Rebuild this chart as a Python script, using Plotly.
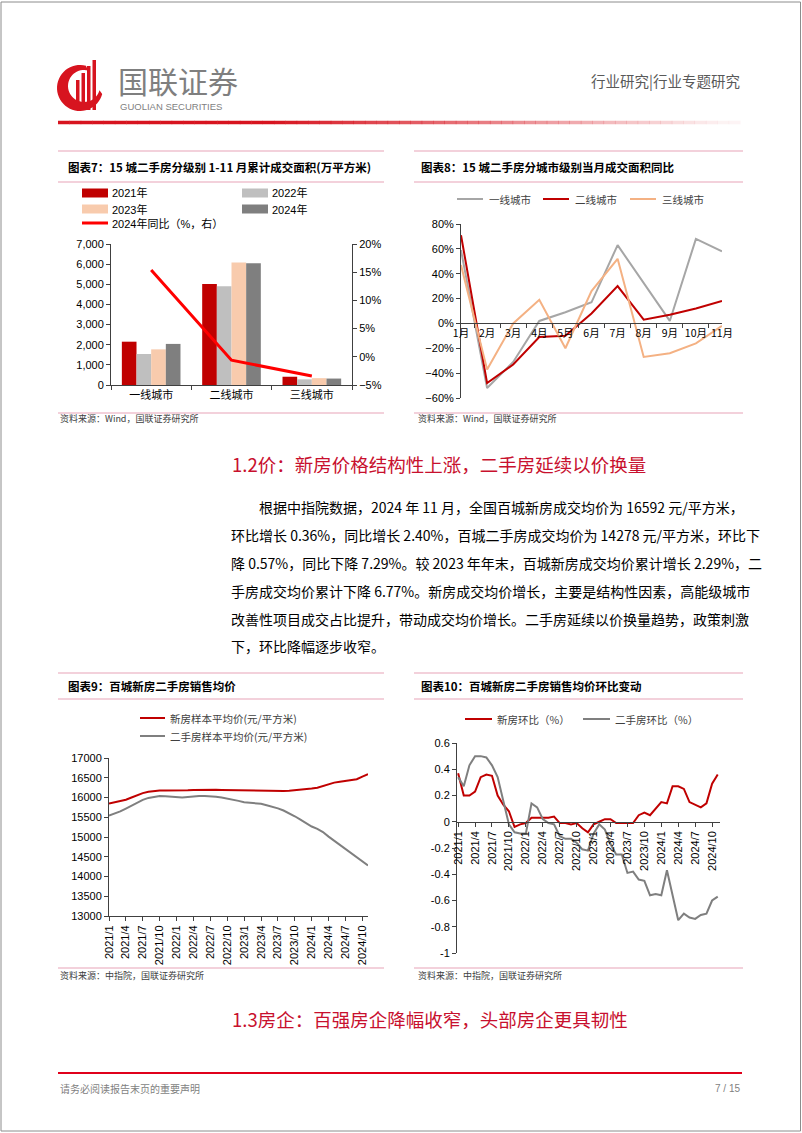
import math
import plotly.graph_objects as go

W, H = 802, 1133
def X(px): return px / W
def Y(py): return 1 - py / H

CN = "Noto Sans CJK SC"
LAT = "Liberation Sans, Noto Sans CJK SC"

# ---------------- data ----------------
# Chart 7
tiers = ["一线城市", "二线城市", "三线城市"]
area_2021 = [2150, 5020, 410]
area_2022 = [1540, 4900, 280]
area_2023 = [1770, 6080, 340]
area_2024 = [2040, 6050, 320]
yoy_2024 = [15.4, -0.6, -3.4]
bar_names = ["2021年", "2022年", "2023年", "2024年"]
line_name = "2024年同比（%，右）"

# Chart 8
months_cn = ["1月", "2月", "3月", "4月", "5月", "6月", "7月", "8月", "9月", "10月", "11月"]
tier1_yoy = [59, -52, -31, 2, 9, 17, 63, 32, 2, 68, 58]
tier2_yoy = [71, -48, -33, -11, -10, 8, 30, 3, 7, 12, 18]
tier3_yoy = [47, -37, 0, 19, -20, 26, 52, -27, -24, -16, -2]
tier_names = ["一线城市", "二线城市", "三线城市"]

# Chart 9 / 10 months
months = ([f"2021/{m}" for m in range(1, 13)] + [f"2022/{m}" for m in range(1, 13)]
          + [f"2023/{m}" for m in range(1, 13)] + [f"2024/{m}" for m in range(1, 12)])
tick_months = ["2021/1", "2021/4", "2021/7", "2021/10", "2022/1", "2022/4", "2022/7", "2022/10",
               "2023/1", "2023/4", "2023/7", "2023/10", "2024/1", "2024/4", "2024/7", "2024/10"]

new_price = [15850, 15880, 15910, 15945, 16000, 16060, 16110, 16145, 16165, 16180, 16178, 16175,
             16174, 16179, 16184, 16189, 16194, 16200, 16198, 16196, 16193, 16191, 16183, 16170,
             16167, 16167, 16170, 16173, 16171, 16169, 16167, 16165, 16173, 16184, 16192, 16200,
             16225, 16248, 16292, 16336, 16377, 16401, 16422, 16440, 16463, 16530, 16592]
used_price = [15540, 15585, 15650, 15720, 15798, 15875, 15940, 15990, 16020, 16035, 16030, 16020,
              16005, 16000, 16010, 16030, 16035, 16035, 16030, 16020, 16000, 15975, 15950, 15915,
              15880, 15870, 15860, 15840, 15805, 15770, 15725, 15670, 15605, 15525, 15440, 15350,
              15265, 15205, 15125, 15010, 14905, 14795, 14690, 14585, 14485, 14365, 14278]
price_names = ["新房样本平均价(元/平方米)", "二手房样本平均价(元/平方米)"]

new_mom = [0.37, 0.20, 0.20, 0.23, 0.34, 0.36, 0.35, 0.20, 0.13, 0.08, -0.04, -0.02,
           -0.01, 0.03, 0.03, 0.03, 0.03, 0.04, -0.01, -0.01, -0.02, -0.01, -0.05, -0.08,
           -0.02, 0.00, 0.02, 0.02, -0.01, -0.01, -0.01, -0.01, 0.05, 0.07, 0.05, 0.10,
           0.15, 0.14, 0.27, 0.27, 0.25, 0.15, 0.13, 0.11, 0.14, 0.29, 0.36]
used_mom = [0.34, 0.27, 0.43, 0.50, 0.50, 0.49, 0.43, 0.34, 0.16, -0.02, -0.08, -0.09,
            -0.09, 0.14, 0.11, 0.02, -0.01, -0.02, -0.11, -0.13, -0.13, -0.16, -0.21, -0.22,
            -0.09, -0.02, -0.06, -0.17, -0.25, -0.25, -0.39, -0.38, -0.44, -0.45, -0.56, -0.55,
            -0.56, -0.37, -0.56, -0.75, -0.70, -0.73, -0.74, -0.71, -0.70, -0.60, -0.57]
mom_names = ["新房环比（%）", "二手房环比（%）"]
mom_ticks = [0.6, 0.4, 0.2, 0, -0.2, -0.4, -0.6, -0.8, -1]
mom_ticktext = ["0.6", "0.4", "0.2", "0", "-0.2", "-0.4", "-0.6", "-0.8", "-1"]

# ---------------- styles ----------------
RED = "#C00000"
BRIGHT = "#FF0000"
LGRAY = "#BFBFBF"
PEACH = "#F8CBAD"
DGRAY = "#7F7F7F"
PINK = "#E7A3B8"
AX = "#404040"
HEAD = "#C8102E"

fig = go.Figure()
shapes, ann = [], []

def txt(x, y, s, size, color="#000000", xanchor="left", family=CN, yanchor="middle"):
    ann.append(dict(x=X(x), y=Y(y), xref="paper", yref="paper", text=s, showarrow=False,
                    xanchor=xanchor, yanchor=yanchor, font=dict(size=size, color=color, family=family)))

def hline(x0, x1, y, color, width=1, opacity=1.0):
    shapes.append(dict(type="line", xref="paper", yref="paper", x0=X(x0), x1=X(x1), y0=Y(y), y1=Y(y),
                       line=dict(color=color, width=width), opacity=opacity))

def rect(x0, y0, x1, y1, color):
    shapes.append(dict(type="rect", xref="paper", yref="paper", x0=X(x0), x1=X(x1), y0=Y(y1), y1=Y(y0),
                       fillcolor=color, line=dict(width=0)))

# ---------------- chart 7 ----------------
for name, vals, col in zip(bar_names, [area_2021, area_2022, area_2023, area_2024], [RED, LGRAY, PEACH, DGRAY]):
    fig.add_trace(go.Bar(x=tiers, y=vals, name=name, marker=dict(color=col, line=dict(width=0)),
                         xaxis="x", yaxis="y", showlegend=False))
fig.add_trace(go.Scatter(x=tiers, y=yoy_2024, name=line_name, mode="lines",
                         line=dict(color=BRIGHT, width=3), xaxis="x", yaxis="y2", showlegend=False))

# ---------------- chart 8 ----------------
for name, vals, col in zip(tier_names, [tier1_yoy, tier2_yoy, tier3_yoy], ["#A6A6A6", RED, "#F4B183"]):
    fig.add_trace(go.Scatter(x=months_cn, y=vals, name=name, mode="lines", line=dict(color=col, width=2),
                             xaxis="x3", yaxis="y3", showlegend=False))

# ---------------- chart 9 ----------------
for name, vals, col in zip(price_names, [new_price, used_price], [RED, DGRAY]):
    fig.add_trace(go.Scatter(x=months, y=vals, name=name, mode="lines", line=dict(color=col, width=2),
                             xaxis="x4", yaxis="y4", showlegend=False))

# ---------------- chart 10 ----------------
for name, vals, col in zip(mom_names, [new_mom, used_mom], [RED, DGRAY]):
    fig.add_trace(go.Scatter(x=months, y=vals, name=name, mode="lines", line=dict(color=col, width=2),
                             xaxis="x5", yaxis="y5", showlegend=False))

tickfont = dict(family=LAT, size=11, color="#000000")
common = dict(showgrid=False, zeroline=False, showline=True, linecolor=AX, linewidth=1, automargin=False,
              ticks="outside", ticklen=4, tickcolor=AX, tickfont=tickfont)

fig.update_layout(
    width=W, height=H, autosize=False, margin=dict(l=0, r=0, t=0, b=0, pad=0),
    paper_bgcolor="white", plot_bgcolor="rgba(0,0,0,0)",
    barmode="group", bargap=0.27, bargroupgap=0,
    xaxis=dict(domain=[X(111), X(352)], anchor="y", type="category", tickson="boundaries", **common),
    yaxis=dict(domain=[Y(385), Y(244)], anchor="x", range=[0, 7000], dtick=1000, tickformat=",", **common),
    yaxis2=dict(overlaying="y", side="right", anchor="x", range=[-5, 20], dtick=5, ticksuffix="%", **common),
    xaxis3=dict(domain=[X(461), X(722)], anchor="free", position=Y(398) + (Y(224) - Y(398)) * 60 / 140,
                type="category", tickson="boundaries", tickangle=0, **common),
    yaxis3=dict(domain=[Y(398), Y(224)], anchor="x3", range=[-60, 80], dtick=20, ticksuffix="%", **common),
    xaxis4=dict(domain=[X(109), X(368)], anchor="y4", type="category", range=[0, 46],
                tickmode="array", tickvals=tick_months, ticktext=tick_months, tickangle=-90, **common),
    yaxis4=dict(domain=[Y(916), Y(758)], anchor="x4", range=[13000, 17000], dtick=500, tickformat="d", **common),
    xaxis5=dict(domain=[X(457), X(720)], anchor="free", position=Y(953) + (Y(743) - Y(953)) * 1.0 / 1.6,
                type="category", range=[-0.2, 46.4],
                tickmode="array", tickvals=tick_months, ticktext=tick_months, tickangle=-90, **common),
    yaxis5=dict(domain=[Y(953), Y(743)], anchor="x5", range=[-1, 0.6], tickmode="array",
                tickvals=mom_ticks, ticktext=mom_ticktext, **common),
)
fig.layout.xaxis.tickfont = dict(family=CN, size=11, color="#000000")
fig.layout.xaxis3.tickfont = dict(family=CN, size=10.5, color="#000000")

# ---------------- page decorations ----------------
shapes.append(dict(type="rect", xref="paper", yref="paper", x0=X(1), x1=X(800.5), y0=Y(1131), y1=Y(2),
                   line=dict(color="#8C8C8C", width=1)))

# logo
cx, cy = 80, 88
pts = []
for i in range(0, 41):
    a = math.radians(75 + 270 * i / 40)
    pts.append((cx + 23 * math.cos(a), cy - 23 * math.sin(a)))
for i in range(0, 41):
    a = math.radians(345 - 270 * i / 40)
    pts.append((cx + 4 + 16 * math.cos(a), cy - 2 - 16 * math.sin(a)))
path = "M " + " L ".join(f"{X(px):.5f},{Y(py):.5f}" for px, py in pts) + " Z"
shapes.append(dict(type="path", xref="paper", yref="paper", path=path, fillcolor="#D7141F", line=dict(width=0)))
for bx, top in [(76, 80), (81.5, 73), (87, 66), (92.5, 60)]:
    rect(bx, top, bx + 3.5, 110, "#D7141F")

txt(116, 80, "国联证券", 30, "#7F7F7F")
txt(118, 107, "GUOLIAN SECURITIES", 9.5, "#7F7F7F", family="Liberation Sans")
txt(742, 80, "行业研究|行业专题研究", 14.5, "#595959", xanchor="right")

# gradient red rule
N = 60
x0, x1 = 58, 740
for i in range(N):
    t = i / N
    op = 1.0 if t < 0.3 else max(0.04, 1 - (t - 0.3) / 0.7)
    hline(x0 + (x1 - x0) * i / N, x0 + (x1 - x0) * (i + 1) / N + 0.5, 122.5, "#D7141F", 3.5, op)

# panel frames
for (lx, rx) in [(58, 384), (414, 743)]:
    for y in (151, 182, 413, 673, 699, 968):
        hline(lx, rx, y, PINK, 1.2)

# titles
txt(66, 167, "<b>图表7：15 城二手房分级别 1-11 月累计成交面积(万平方米)</b>", 11.5)
txt(419, 167, "<b>图表8：15 城二手房分城市级别当月成交面积同比</b>", 11.5)
txt(66, 686, "<b>图表9：百城新房二手房销售均价</b>", 11.5)
txt(419, 686, "<b>图表10：百城新房二手房销售均价环比变动</b>", 11.5)

# sources
txt(58, 419, "资料来源：Wind，国联证券研究所", 9, "#404040")
txt(416, 419, "资料来源：Wind，国联证券研究所", 9, "#404040")
txt(58, 975, "资料来源：中指院，国联证券研究所", 9, "#404040")
txt(416, 975, "资料来源：中指院，国联证券研究所", 9, "#404040")

# chart 7 legend
leg7 = [(82, 193, RED, bar_names[0]), (242, 193, LGRAY, bar_names[1]),
        (82, 209, PEACH, bar_names[2]), (242, 209, DGRAY, bar_names[3])]
for lx, ly, col, name in leg7:
    rect(lx, ly - 4.5, lx + 26, ly + 4.5, col)
    txt(lx + 28, ly, name, 11, "#000000", family=LAT)
hline(82, 108, 223, BRIGHT, 3)
txt(110, 223, line_name, 11, "#000000", family=LAT)

# chart 8 legend
for lx, col, name in [(457, "#A6A6A6", tier_names[0]), (543, RED, tier_names[1]), (630, "#F4B183", tier_names[2])]:
    hline(lx, lx + 26, 199, col, 2)
    txt(lx + 30, 199, name, 10.5, "#404040")

# chart 9 legend
hline(140, 165, 718, RED, 2)
txt(168, 718, price_names[0], 10.5, "#404040")
hline(140, 165, 736, DGRAY, 2)
txt(168, 736, price_names[1], 10.5, "#404040")

# chart 10 legend
hline(465, 492, 719, RED, 2)
txt(495, 719, mom_names[0], 10.5, "#404040")
hline(583, 610, 719, DGRAY, 2)
txt(613, 719, mom_names[1], 10.5, "#404040")

# body text
txt(230, 464, "1.2价：新房价格结构性上涨，二手房延续以价换量", 18.5, HEAD)
body = [
    (257, 507, "根据中指院数据，2024 年 11 月，全国百城新房成交均价为 16592 元/平方米，"),
    (229, 535, "环比增长 0.36%，同比增长 2.40%，百城二手房成交均价为 14278 元/平方米，环比下"),
    (229, 563, "降 0.57%，同比下降 7.29%。较 2023 年年末，百城新房成交均价累计增长 2.29%，二"),
    (229, 591, "手房成交均价累计下降 6.77%。新房成交均价增长，主要是结构性因素，高能级城市"),
    (229, 619, "改善性项目成交占比提升，带动成交均价增长。二手房延续以价换量趋势，政策刺激"),
    (229, 646, "下，环比降幅逐步收窄。"),
]
for bx, by, s in body:
    txt(bx, by, s, 14, "#000000")

txt(230, 1019, "1.3房企：百强房企降幅收窄，头部房企更具韧性", 18.5, HEAD)

# footer
hline(58, 742, 1073, "#E0001B", 2)
txt(58, 1088, "请务必阅读报告末页的重要声明", 10, "#7F7F7F")
txt(742, 1088, "7 / 15", 10, "#7F7F7F", xanchor="right", family="Liberation Sans")

fig.update_layout(shapes=shapes, annotations=ann)
fig.write_html("out.html", config={"displayModeBar": False},
               post_script="document.body.style.margin='0';document.body.style.overflow='hidden';")
